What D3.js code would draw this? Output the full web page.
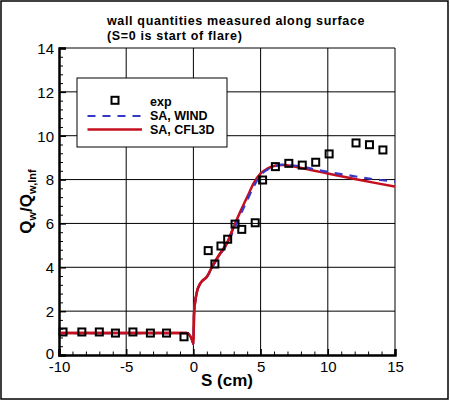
<!DOCTYPE html>
<html><head><meta charset="utf-8">
<script src="https://cdn.jsdelivr.net/npm/d3@7"></script>
<style>body{margin:0;background:#fff}svg{display:block}text{font-family:"Liberation Sans",Arial,sans-serif}</style>
</head><body>
<svg id="c" width="450" height="401"></svg>
<script>
const titleLines = ["wall quantities measured along surface", "(S=0 is start of flare)"];
const xTicks = [-10, -5, 0, 5, 10, 15];
const yTicks = [0, 2, 4, 6, 8, 10, 12, 14];
const legendLabels = ["exp", "SA, WIND", "SA, CFL3D"];

const expS = [-9.7,-8.3,-7.0,-5.8,-4.5,-3.2,-2.0,-0.7,1.1,1.6,2.05,2.55,3.1,3.6,4.6,5.15,6.1,7.1,8.1,9.1,10.1,12.1,13.1,14.1];
const expQ = [1.05,1.05,1.05,1.0,1.05,1.0,1.0,0.83,4.76,4.15,4.97,5.28,5.97,5.73,6.03,7.98,8.59,8.74,8.66,8.79,9.17,9.67,9.59,9.35];

const windS = [-10,-1.0,-0.5,-0.05,0.0,0.05,0.15,0.25,0.5,1.0,1.5,2.0,2.5,3.0,3.5,4.0,4.5,5.0,5.5,6.0,6.7,8.0,9.0,10.2,11.4,12.6,13.9,15];
const windQ = [1.0,1.0,1.0,0.6,0.5,1.9,2.5,2.85,3.25,3.55,4.1,4.6,5.05,5.7,6.4,7.05,7.7,8.2,8.45,8.6,8.68,8.6,8.47,8.33,8.21,8.09,7.98,7.91];

const cflS = [-10,-1.0,-0.5,-0.05,0.0,0.05,0.15,0.25,0.5,1.0,1.5,2.0,2.5,3.0,3.5,4.0,4.5,5.0,5.5,6.0,6.7,7.5,9.0,10.0,11.0,12.4,13.5,15];
const cflQ = [1.0,1.0,1.0,0.6,0.5,1.9,2.5,2.85,3.25,3.57,4.15,4.64,5.1,5.85,6.55,7.2,7.85,8.28,8.5,8.62,8.66,8.6,8.4,8.28,8.15,7.98,7.85,7.68];

const svg = d3.select("#c");
const L = 59, R = 395, T = 48, B = 355;
const x = d3.scaleLinear().domain([-10, 15]).range([L, R]);
const y = d3.scaleLinear().domain([0, 14]).range([B, T]);

// outer frame
svg.append("rect").attr("x", 1).attr("y", 1).attr("width", 447).attr("height", 398)
  .attr("fill", "none").attr("stroke", "#000").attr("stroke-width", 1.5);

// title
svg.append("g").selectAll("text").data(titleLines).join("text")
  .attr("x", 107).attr("y", (d, i) => 25 + i * 14.5)
  .attr("font-size", 12.5).attr("letter-spacing", 0.65).attr("font-weight", "bold").text(d => d);

// gridlines
const grid = svg.append("g").attr("stroke", "#000").attr("stroke-width", 1);
grid.selectAll("line.gx").data(xTicks.slice(1, -1)).join("line")
  .attr("x1", d => x(d)).attr("x2", d => x(d)).attr("y1", T).attr("y2", B);
grid.selectAll("line.gy").data(yTicks.slice(1, -1)).join("line")
  .attr("x1", L).attr("x2", R).attr("y1", d => y(d)).attr("y2", d => y(d));

// top/right frame
svg.append("line").attr("x1", L).attr("x2", R).attr("y1", T).attr("y2", T).attr("stroke", "#000");
svg.append("line").attr("x1", R).attr("x2", R).attr("y1", T).attr("y2", B).attr("stroke", "#000");

// axes
const xAxis = d3.axisBottom(x).tickValues(xTicks).tickSize(-6).tickFormat(d3.format("d"));
const gx = svg.append("g").attr("transform", `translate(0,${B})`).call(xAxis);
gx.select(".domain").attr("stroke-width", 2.5);
gx.selectAll(".tick line").attr("stroke-width", 1.5);
gx.selectAll(".tick text").attr("font-size", 15).attr("font-family", "Liberation Sans, Arial, sans-serif")
  .attr("y", 0).attr("dy", null).attr("transform", "translate(0,17)").text(d => String(d).replace("\u2212", "-"));

const xMinor = d3.range(-10, 15.01, 1).filter(v => xTicks.indexOf(v) < 0);
svg.append("g").attr("transform", `translate(0,${B})`).call(
  d3.axisBottom(x).tickValues(xMinor).tickSize(-3.5).tickFormat(""))
  .call(g => g.select(".domain").remove());

const yAxis = d3.axisLeft(y).tickValues(yTicks).tickSize(-7).tickPadding(5);
const gy = svg.append("g").attr("transform", `translate(${L},0)`).call(yAxis);
gy.select(".domain").attr("stroke-width", 2.5);
gy.selectAll(".tick line").attr("stroke-width", 1.5);
gy.selectAll(".tick text").attr("font-size", 15).attr("font-family", "Liberation Sans, Arial, sans-serif")
  .attr("x", -5).attr("dy", d => d === 0 ? "0.2em" : "0.36em");

const yMinor = d3.range(0, 14.01, 0.4).map(v => +v.toFixed(1)).filter(v => Math.abs(v / 2 - Math.round(v / 2)) > 1e-6);
svg.append("g").attr("transform", `translate(${L},0)`).call(
  d3.axisLeft(y).tickValues(yMinor).tickSize(-4).tickFormat(""))
  .call(g => g.select(".domain").remove());

// axis labels
svg.append("text").attr("x", (L + R) / 2).attr("y", 386).attr("text-anchor", "middle")
  .attr("font-size", 17).attr("font-weight", "bold").text("S (cm)");
const yl = svg.append("text").attr("transform", `translate(32,${(T + B) / 2}) rotate(-90)`)
  .attr("text-anchor", "middle").attr("font-size", 17).attr("font-weight", "bold");
yl.append("tspan").text("Q");
yl.append("tspan").attr("font-size", 11).attr("dy", 4).text("w");
yl.append("tspan").attr("dy", -4).text("/Q");
yl.append("tspan").attr("font-size", 11).attr("dy", 4).text("w,Inf");

// legend
const lg = svg.append("g");
lg.append("rect").attr("x", 77).attr("y", 78).attr("width", 150).attr("height", 69)
  .attr("fill", "#fff").attr("stroke", "#000").attr("stroke-width", 1);
lg.append("rect").attr("x", 111.5).attr("y", 96.8).attr("width", 7).attr("height", 7)
  .attr("fill", "none").attr("stroke", "#000").attr("stroke-width", 2);
lg.append("line").attr("x1", 87.5).attr("x2", 142).attr("y1", 116).attr("y2", 116)
  .attr("stroke", "#3838c8").attr("stroke-width", 2.2).attr("stroke-dasharray", "8,7");
lg.append("line").attr("x1", 87.5).attr("x2", 142).attr("y1", 129.5).attr("y2", 129.5)
  .attr("stroke", "#c4101e").attr("stroke-width", 2.5);
lg.selectAll("text").data(legendLabels).join("text")
  .attr("x", 150).attr("y", (d, i) => 106 + i * 14.2)
  .attr("font-size", 12.5).attr("font-weight", "bold").text(d => d);

// curves
const line = d3.line().x(d => x(d[0])).y(d => y(d[1])).curve(d3.curveMonotoneX);
svg.append("path").datum(cflS.map((s, i) => [s, cflQ[i]])).attr("d", line)
  .attr("fill", "none").attr("stroke", "#c4101e").attr("stroke-width", 2.5);
svg.append("path").datum(windS.map((s, i) => [s, windQ[i]])).attr("d", line)
  .attr("fill", "none").attr("stroke", "#3838c8").attr("stroke-width", 2.2).attr("stroke-dasharray", "8,7");
svg.append("path").datum(cflS.map((s, i) => [s, cflQ[i]]).filter(d => d[0] <= 3)).attr("d", line)
  .attr("fill", "none").attr("stroke", "#c4101e").attr("stroke-width", 2.5);

// experimental squares
svg.append("g").selectAll("rect").data(expS.map((s, i) => [s, expQ[i]])).join("rect")
  .attr("x", d => x(d[0]) - 3.5).attr("y", d => y(d[1]) - 3.5).attr("width", 7).attr("height", 7)
  .attr("fill", "none").attr("stroke", "#000").attr("stroke-width", 2);
</script>
</body></html>
